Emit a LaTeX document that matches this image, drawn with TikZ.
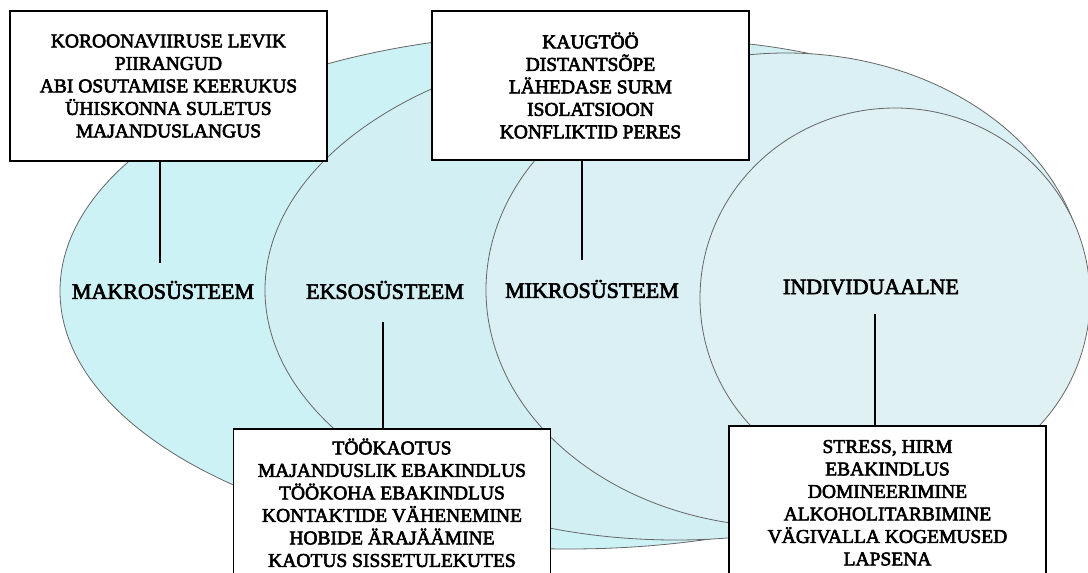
\documentclass[tikz,border=0pt]{standalone}
\usepackage{fontspec}
\setmainfont{Liberation Serif}
\newfontfamily\paks[FakeBold=3]{Liberation Serif}
\definecolor{makrosinine}{RGB}{204,242,246}
\definecolor{eksosinine}{RGB}{210,240,244}
\definecolor{mikrosinine}{RGB}{218,240,244}
\definecolor{isiksinine}{RGB}{224,241,244}
\begin{document}
\begin{tikzpicture}[x=1pt,y=-1pt,
    ring/.style={draw=black!60, line width=0.8pt},
    joon/.style={draw=black, line width=1.2pt},
    kast/.style={draw=black, fill=white, line width=1.6pt, minimum width=317pt,
      align=center, font=\paks\fontsize{19.5}{22.5}\selectfont},
    silt/.style={font=\paks\fontsize{22}{26}\selectfont, inner ysep=20pt}]

    \useasboundingbox (0,0) rectangle (1088,573);

    % Makrosüsteem
    \draw[ring, fill=makrosinine] (569,291) ellipse [x radius=509, y radius=258];

    % Eksosüsteem
    \draw[ring, fill=eksosinine] (675.5,290) ellipse [x radius=410.5, y radius=250];

    % Mikrosüsteem
    \draw[ring, fill=mikrosinine] (786,290) ellipse [x radius=300, y radius=237];

    % Individuaalne
    \draw[ring, fill=isiksinine] (895,298) ellipse [x radius=195, y radius=190];

    % Tasandite nimed
    \node[silt] (makro) at (163,290) {MAKROSÜSTEEM};
    \node[silt] (ekso) at (385,290) {EKSOSÜSTEEM};
    \node[silt] (mikro) at (592,289) {MIKROSÜSTEEM};
    \node[silt] (indiv) at (871,287) {INDIVIDUAALNE};

    % Kastid
    \node[kast, minimum height=150pt] (makrokast) at (168.5,86)
      {KOROONAVIIRUSE LEVIK\\PIIRANGUD\\ABI OSUTAMISE KEERUKUS\\ÜHISKONNA SULETUS\\MAJANDUSLANGUS};
    \node[kast, minimum height=149pt] (mikrokast) at (590.5,85.5)
      {KAUGTÖÖ\\DISTANTSÕPE\\LÄHEDASE SURM\\ISOLATSIOON\\KONFLIKTID PERES};
    \node[kast, minimum height=148pt, anchor=north] (eksokast) at (392,428)
      {TÖÖKAOTUS\\MAJANDUSLIK EBAKINDLUS\\TÖÖKOHA EBAKINDLUS\\KONTAKTIDE VÄHENEMINE\\HOBIDE ÄRAJÄÄMINE\\KAOTUS SISSETULEKUTES};
    \node[kast, minimum height=154pt, anchor=north] (indivkast) at (887.5,425)
      {STRESS, HIRM\\EBAKINDLUS\\DOMINEERIMINE\\ALKOHOLITARBIMINE\\VÄGIVALLA KOGEMUSED\\LAPSENA};

    % Ühendusjooned
    \coordinate (makroots) at (160,263);
    \coordinate (mikroots) at (582,260);
    \coordinate (eksoots) at (383,322);
    \coordinate (indivots) at (875,314);
    \draw[joon] (makrokast.south -| makroots) -- (makroots);
    \draw[joon] (mikrokast.south -| mikroots) -- (mikroots);
    \draw[joon] (eksoots) -- (eksokast.north -| eksoots);
    \draw[joon] (indivots) -- (indivkast.north -| indivots);
\end{tikzpicture}
\end{document}
